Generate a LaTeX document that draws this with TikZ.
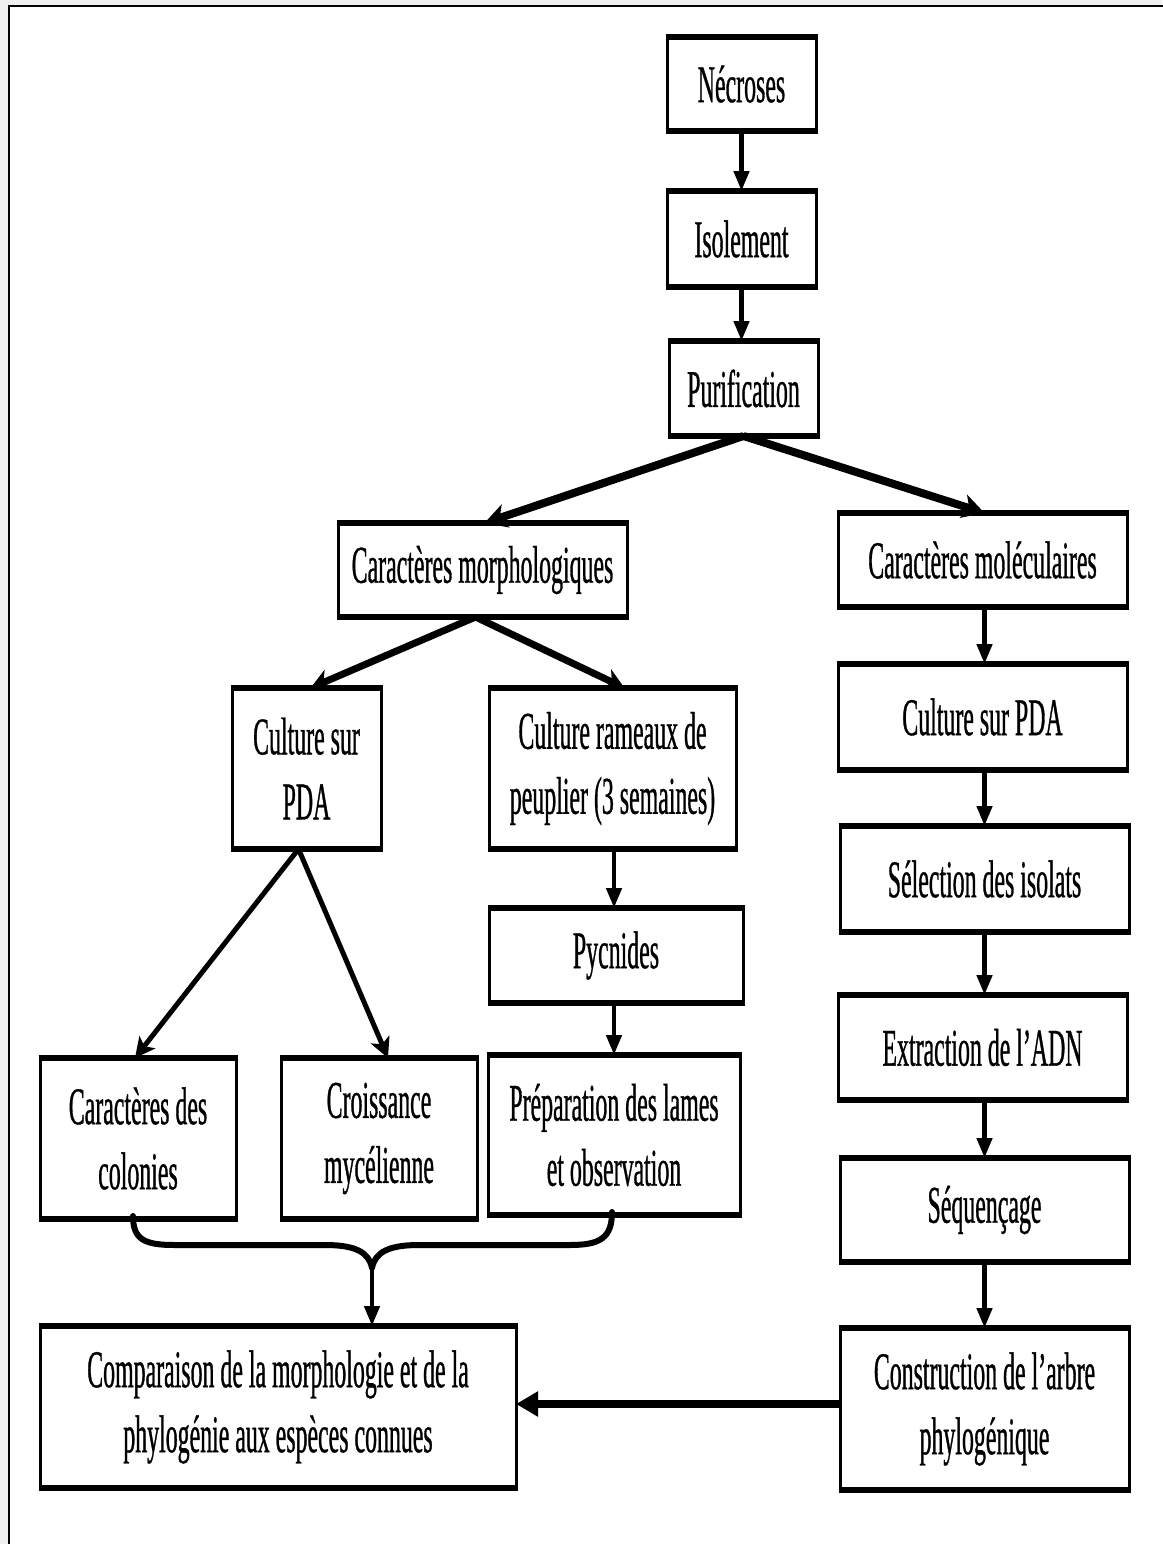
\documentclass[tikz,border=0pt]{standalone}
\usepackage{fontspec}
\setmainfont{Liberation Serif}[FakeStretch=0.45,FakeBold=0.6]
\usetikzlibrary{arrows.meta}
\begin{document}
\begin{tikzpicture}[x=1pt,y=-1pt,
  bx/.style={draw, line width=3pt, align=center, inner sep=0pt, outer sep=0pt,
    font=\fontsize{53}{65}\selectfont},
  va/.style={-{Triangle[length=20pt,width=15pt]}, line width=4.5pt},
  da/.style={-{Stealth[length=22pt,width=24pt,inset=6pt]}, line width=8pt},
  db/.style={-{Stealth[length=20pt,width=22pt,inset=6pt]}, line width=7pt},
  dc/.style={-{Stealth[length=20pt,width=20pt,inset=5pt]}, line width=5pt},
  ha/.style={-{Triangle[length=22pt,width=24pt]}, line width=8pt}]
\useasboundingbox (0,0) rectangle (1162,1544);
\fill[black!6] (0,0) rectangle (1162,1544);
\draw[line width=2pt, fill=white] (9,6) rectangle (1180,1570);

\node[bx, minimum width=149, minimum height=94] (nec) at (741.5,84) {Nécroses};
\node[bx, minimum width=149, minimum height=96] (iso) at (741.5,239) {Isolement};
\node[bx, minimum width=149, minimum height=95] (pur) at (743.5,388.5) {Purification};
\node[bx, minimum width=289, minimum height=94] (morph) at (482.5,570) {Caractères morphologiques};
\node[bx, minimum width=289, minimum height=94] (mol) at (982.5,560) {Caractères moléculaires};
\node[bx, minimum width=149, minimum height=161] (cpdaL) at (306.5,768.5) {Culture sur\\PDA};
\node[bx, minimum width=247, minimum height=161] (ram) at (612.5,768.5) {Culture rameaux de\\peuplier (3 semaines)};
\node[bx, minimum width=289, minimum height=106] (cpdaR) at (982.5,717) {Culture sur PDA};
\node[bx, minimum width=254, minimum height=95] (pyc) at (616,955.5) {Pycnides};
\node[bx, minimum width=289, minimum height=106] (sel) at (984.5,879) {Sélection des isolats};
\node[bx, minimum width=196, minimum height=161] (col) at (138,1138.5) {Caractères des\\colonies};
\node[bx, minimum width=196, minimum height=161] (croi) at (379,1138.5) {Croissance\\mycélienne};
\node[bx, minimum width=252, minimum height=160] (prep) at (614,1135) {Préparation des lames\\et observation};
\node[bx, minimum width=289, minimum height=105] (adn) at (982.5,1047.5) {Extraction de l’ADN};
\node[bx, minimum width=289, minimum height=104] (seq) at (984.5,1210) {Séquençage};
\node[bx, minimum width=476, minimum height=162] (comp) at (278,1407) {Comparaison de la morphologie et de la\\phylogénie aux espèces connues};
\node[bx, minimum width=289, minimum height=162] (constr) at (984.5,1409) {Construction de l’arbre\\phylogénique};

\foreach \n in {nec,iso,pur,morph,mol,cpdaL,ram,cpdaR,pyc,sel,col,croi,prep,adn,seq,comp,constr}{
  \draw[line width=6pt] ([xshift=-1.5pt]\n.north west) -- ([xshift=1.5pt]\n.north east);
  \draw[line width=6pt] ([xshift=-1.5pt]\n.south west) -- ([xshift=1.5pt]\n.south east);
}

% main column
\draw[va] (nec.south) -- (iso.north);
\draw[va] (iso.south) -- (pur.north -| iso.south);
% split
\draw[da] (pur.south) -- ([xshift=2pt]morph.north);
\draw[da] (pur.south) -- ([xshift=2pt]mol.north);
\draw[db] ([xshift=-7pt]morph.south) -- ([xshift=4pt]cpdaL.north);
\draw[db] ([xshift=-7pt]morph.south) -- ([xshift=12pt]ram.north);
\draw[dc] ([xshift=-8pt]cpdaL.south) -- ([xshift=-3pt]col.north);
\draw[dc] ([xshift=-8pt]cpdaL.south) -- ([xshift=9pt]croi.north);
% middle column
\draw[va] ([xshift=1.5pt]ram.south) -- ([xshift=1.5pt]ram.south |- pyc.north);
\draw[va] ([xshift=-2pt]pyc.south) -- ([xshift=-2pt]pyc.south |- prep.north);
% right column
\draw[va] ([xshift=2pt]mol.south) -- ([xshift=2pt]mol.south |- cpdaR.north);
\draw[va] ([xshift=2pt]cpdaR.south) -- ([xshift=2pt]cpdaR.south |- sel.north);
\draw[va] (sel.south) -- (sel.south |- adn.north);
\draw[va] ([xshift=2pt]adn.south) -- ([xshift=2pt]adn.south |- seq.north);
\draw[va] (seq.south) -- (seq.south |- constr.north);
% horizontal
\draw[ha] ([yshift=5pt]constr.west) -- ([yshift=5pt]comp.east |- constr.west);
% brace
\coordinate (bt) at (372,1268);
\draw[line width=6pt, line cap=round, line join=round]
  ([xshift=-5pt,yshift=3pt]col.south) .. controls (133,1240) and (145,1245) .. (175,1245)
  -- (325,1245) .. controls (355,1245) and (369,1252) .. (bt)
  .. controls (375,1252) and (389,1245) .. (419,1245)
  -- (570,1245) .. controls (600,1245) and (612,1238) .. ([xshift=-2pt,yshift=3pt]prep.south);
\draw[va] (bt) -- (bt |- comp.north);
\end{tikzpicture}
\end{document}
